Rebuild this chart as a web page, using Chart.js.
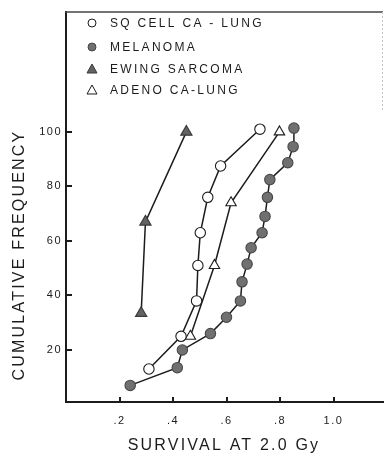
<!DOCTYPE html>
<html>
<head>
<meta charset="utf-8">
<script src="https://cdn.jsdelivr.net/npm/chart.js@4.4.1/dist/chart.umd.min.js"></script>
<style>
  html, body { margin: 0; padding: 0; background: #fff; }
  #wrap { width: 384px; height: 456px; }
</style>
</head>
<body>
<div id="wrap"><canvas id="survival-chart" width="384" height="456"></canvas></div>
<script>
// survival fraction at 2.0 Gy vs cumulative frequency (%)
const sqCellX = [0.31, 0.43, 0.488, 0.493, 0.502, 0.53, 0.578, 0.725];
const sqCellY = [13, 25, 38, 51, 63, 76, 87.5, 101];

const melanomaX = [0.24, 0.416, 0.435, 0.54, 0.60, 0.652, 0.658, 0.677, 0.692, 0.733, 0.744, 0.753, 0.762, 0.829, 0.849, 0.852];
const melanomaY = [7, 13.5, 20, 26, 32, 38, 45, 51.5, 57.5, 63, 69, 76, 82.5, 88.7, 94.6, 101.4];

const ewingX = [0.281, 0.297, 0.45];
const ewingY = [33.5, 67, 100];

const adenoX = [0.465, 0.555, 0.617, 0.798];
const adenoY = [25, 51, 74, 100];

const xTicks = [0.2, 0.4, 0.6, 0.8, 1.0];
const yTicks = [20, 40, 60, 80, 100];

const legendLabels = ['SQ CELL CA - LUNG', 'MELANOMA', 'EWING SARCOMA', 'ADENO CA-LUNG'];

const FONT = "'Liberation Sans', Arial, Helvetica, sans-serif";
const INK = '#1c1c1c';

function pts(xs, ys) {
    return xs.map((x, i) => ({ x: x, y: ys[i] }));
}

const series = [
    { data: pts(sqCellX, sqCellY), style: 'circle', fill: '#ffffff', edge: INK, r: 5.2 },
    { data: pts(melanomaX, melanomaY), style: 'circle', fill: '#707070', edge: '#474747', r: 5.2 },
    { data: pts(ewingX, ewingY), style: 'triangle', fill: '#626262', edge: '#3a3a3a', r: 6.5 },
    { data: pts(adenoX, adenoY), style: 'triangle', fill: '#ffffff', edge: INK, r: 6 }
];

// legend markers, ticks pointing inward, frame and axis titles
const decorations = {
    id: 'decorations',
    beforeDraw(chart) {
        chart.ctx.letterSpacing = '1.5px';
    },
    afterDraw(chart) {
        const ctx = chart.ctx;
        const area = chart.chartArea;
        const xs = chart.scales.x;
        const ys = chart.scales.y;
        ctx.save();
        ctx.letterSpacing = '0px';

        // top edge and faint right edge of the frame
        ctx.strokeStyle = '#444';
        ctx.lineWidth = 1.5;
        ctx.beginPath();
        ctx.moveTo(area.left - 1, area.top);
        ctx.lineTo(area.right, area.top);
        ctx.stroke();
        ctx.strokeStyle = '#c4c4c4';
        ctx.lineWidth = 1;
        ctx.setLineDash([2, 2]);
        ctx.beginPath();
        ctx.moveTo(area.right - 0.5, area.top);
        ctx.lineTo(area.right - 0.5, area.top + 100);
        ctx.stroke();
        ctx.setLineDash([]);

        // tick marks inside the plot
        ctx.strokeStyle = INK;
        ctx.lineWidth = 2;
        ctx.beginPath();
        xTicks.forEach(v => {
            const px = Math.round(xs.getPixelForValue(v));
            ctx.moveTo(px, area.bottom);
            ctx.lineTo(px, area.bottom - 5);
        });
        yTicks.forEach(v => {
            const py = Math.round(ys.getPixelForValue(v));
            ctx.moveTo(area.left, py);
            ctx.lineTo(area.left + 6, py);
        });
        ctx.stroke();

        // legend
        const rows = [23, 47, 69, 90];
        ctx.font = '12px ' + FONT;
        ctx.letterSpacing = '2.3px';
        ctx.textBaseline = 'middle';
        ctx.textAlign = 'left';
        series.forEach((s, i) => {
            const cx = 92, cy = rows[i];
            ctx.fillStyle = s.fill;
            ctx.strokeStyle = s.edge;
            ctx.lineWidth = 1;
            ctx.beginPath();
            if (s.style === 'circle') {
                ctx.arc(cx, cy, 4, 0, Math.PI * 2);
            } else {
                ctx.moveTo(cx, cy - 5);
                ctx.lineTo(cx + 5, cy + 4);
                ctx.lineTo(cx - 5, cy + 4);
                ctx.closePath();
            }
            ctx.fill();
            ctx.stroke();
            ctx.fillStyle = INK;
            ctx.fillText(legendLabels[i], 110, cy + 0.5);
        });

        // axis titles
        ctx.font = '16px ' + FONT;
        ctx.fillStyle = INK;
        ctx.textAlign = 'center';
        ctx.letterSpacing = '2.2px';
        ctx.fillText('SURVIVAL AT 2.0 Gy', 224, 446);
        ctx.translate(20, 255);
        ctx.rotate(-Math.PI / 2);
        ctx.letterSpacing = '2.2px';
        ctx.fillText('CUMULATIVE FREQUENCY', 0, 0);
        ctx.restore();
    }
};

const datasets = series.map(s => ({
    data: s.data,
    showLine: true,
    borderColor: INK,
    borderWidth: 1.5,
    pointStyle: s.style,
    pointRadius: s.r,
    pointBackgroundColor: s.fill,
    pointBorderColor: s.edge,
    pointBorderWidth: 1.1
}));

new Chart(document.getElementById('survival-chart'), {
    type: 'scatter',
    data: { datasets: datasets },
    options: {
        responsive: false,
        animation: false,
        layout: {
            autoPadding: false,
            padding: { top: 12, right: 1, left: 0, bottom: 0 }
        },
        plugins: {
            legend: { display: false },
            tooltip: { enabled: false }
        },
        scales: {
            x: {
                type: 'linear',
                min: 0,
                max: 1.185,
                afterFit: s => {
                    s.height = 54;
                    s.paddingLeft = 0;
                    s.paddingRight = 0;
                },
                afterBuildTicks: s => { s.ticks = xTicks.map(v => ({ value: v })); },
                grid: { display: false, drawTicks: false },
                border: { display: true, color: INK, width: 2 },
                ticks: {
                    padding: 12,
                    color: INK,
                    font: { family: FONT, size: 11 },
                    callback: v => (v === 1 ? '1.0' : String(v).replace('0.', '.'))
                }
            },
            y: {
                type: 'linear',
                min: 0.9,
                max: 144,
                afterFit: s => {
                    s.width = 66;
                    s.paddingTop = 0;
                    s.paddingBottom = 0;
                },
                afterBuildTicks: s => { s.ticks = yTicks.map(v => ({ value: v })); },
                grid: { display: false, drawTicks: false },
                border: { display: true, color: INK, width: 2 },
                ticks: {
                    padding: 4,
                    color: INK,
                    font: { family: FONT, size: 11 },
                    callback: v => String(v)
                }
            }
        }
    },
    plugins: [decorations]
});
</script>
</body>
</html>
